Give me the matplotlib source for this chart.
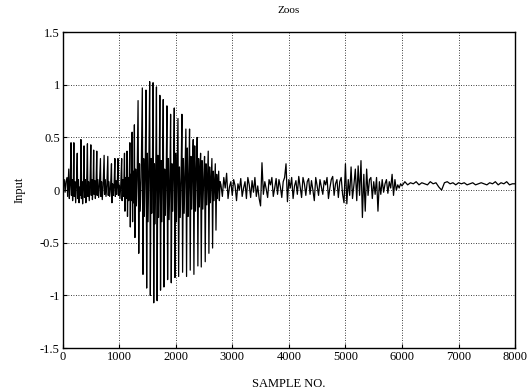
import numpy as np
import matplotlib
matplotlib.use("Agg")
import matplotlib.pyplot as plt

# onset (0 - 1000): weak voiced part, sharp positive pulses
onset_x = [0, 15, 30, 45, 60, 80, 90, 100, 110, 120, 135, 150, 158, 168, 178, 190,
           200, 208, 220, 232, 245, 260, 268, 280, 292, 305, 315, 325, 333, 345, 355, 368,
           380, 388, 400, 412, 425, 440, 448, 460, 472, 485, 500, 508, 518, 528, 540, 550,
           558, 570, 580, 592, 605, 613, 625, 638, 652, 670, 678, 690, 702, 718, 735, 743,
           755, 768, 783, 800, 808, 820, 833, 848, 865, 873, 885, 897, 910, 925, 933, 945,
           955, 968, 980, 988]
onset_y = [0.12, 0.04, 0.10, -0.02, 0.08, 0.12, -0.06, 0.06, 0.20, -0.08, 0.05, 0.45, -0.05, 0.10, -0.10, 0.05,
           0.45, -0.06, 0.08, -0.12, 0.04, 0.35, -0.08, 0.10, -0.12, 0.03, -0.05, 0.48, -0.08, 0.08, -0.13, 0.05,
           0.42, -0.07, 0.10, -0.12, 0.02, 0.44, -0.06, 0.08, -0.10, 0.04, 0.43, -0.05, 0.10, -0.09, 0.02, 0.38,
           -0.04, 0.09, -0.08, 0.03, 0.37, -0.05, 0.10, -0.07, 0.04, 0.30, -0.06, 0.08, -0.09, 0.05, 0.33, -0.04,
           0.10, -0.06, 0.04, 0.32, -0.05, 0.08, -0.06, 0.02, 0.25, -0.12, 0.06, -0.05, 0.03, 0.30, -0.06, 0.09,
           -0.04, 0.05, 0.30, -0.05]

# vowel (1000 - 2800): large periodic pulses
vowel_x = [1003, 1015, 1030,
           1045, 1053, 1063, 1073, 1083,
           1095, 1103, 1113, 1123, 1132,
           1140, 1148, 1158, 1168, 1178,
           1190, 1198, 1206, 1214, 1222,
           1230, 1238, 1246, 1254, 1262,
           1270, 1280, 1292, 1305, 1318,
           1335, 1347, 1360, 1373, 1390,
           1410, 1422, 1434, 1446, 1460,
           1475, 1487, 1499, 1511, 1525,
           1540, 1552, 1564, 1576, 1588,
           1600, 1612, 1624, 1636, 1648,
           1660, 1672, 1684, 1696, 1708,
           1720, 1732, 1744, 1756, 1768,
           1780, 1792, 1805, 1818, 1832,
           1845, 1857, 1870, 1883, 1897,
           1910, 1922, 1935, 1948, 1962,
           1975, 1987, 2000, 2013, 2027,
           2040, 2052, 2066, 2080, 2095,
           2110, 2122, 2136, 2150, 2165,
           2180, 2192, 2205, 2218, 2232,
           2245, 2257, 2270, 2283, 2297,
           2310, 2322, 2336, 2350, 2365,
           2380, 2392, 2405, 2418, 2428,
           2440, 2452, 2466, 2480, 2495,
           2510, 2522, 2536, 2550, 2562,
           2575, 2587, 2600, 2613, 2627,
           2640, 2652, 2665, 2678, 2690,
           2700, 2712, 2725, 2738, 2750,
           2760, 2772, 2785]
vowel_y = [0.05, -0.08, 0.06,
           0.30, -0.10, 0.10, -0.06, 0.05,
           0.35, -0.20, 0.12, -0.08, 0.06,
           0.37, -0.25, 0.12, -0.10, 0.08,
           0.45, -0.35, 0.15, -0.10, 0.05,
           0.55, -0.30, 0.18, -0.12, 0.05,
           0.62, -0.45, 0.20, -0.15, 0.10,
           0.85, -0.60, 0.25, -0.20, 0.12,
           0.97, -0.80, 0.30, -0.25, 0.15,
           0.95, -0.93, 0.35, -0.30, 0.20,
           1.03, -1.00, 0.30, -0.22, 0.18,
           1.02, -1.07, 0.25, -0.32, 0.20,
           0.98, -1.05, 0.33, -0.26, 0.12,
           0.90, -0.95, 0.28, -0.30, 0.22,
           0.86, -0.92, 0.20, -0.24, 0.15,
           0.80, -0.85, 0.30, -0.28, 0.10,
           0.72, -0.88, 0.25, -0.20, 0.22,
           0.78, -0.83, 0.35, -0.30, 0.18,
           0.68, -0.82, 0.22, -0.26, 0.12,
           0.72, -0.78, 0.30, -0.22, 0.20,
           0.58, -0.82, 0.40, -0.25, 0.15,
           0.58, -0.76, 0.32, -0.18, 0.25,
           0.48, -0.80, 0.42, -0.20, 0.18,
           0.50, -0.72, 0.30, -0.16, 0.15,
           0.35, -0.73, 0.28, -0.18, 0.12,
           0.32, -0.68, 0.25, -0.14, 0.12,
           0.37, -0.60, 0.22, -0.12, 0.10,
           0.30, -0.55, 0.18, -0.10, 0.08,
           0.25, -0.38, 0.15, -0.08, 0.06,
           0.18, -0.10, 0.08]

# noisy part (2800 - 5975), one value every 25 samples
noise_start, noise_step = 2800, 25
noise_y = [0.05, -0.06, 0.12, 0.02, 0.16, -0.08, 0.03, 0.08,
           -0.05, 0.10, 0.04, -0.10, 0.06, 0.00, 0.11, -0.06,
           0.02, 0.08, -0.08, 0.12, 0.05, -0.07, 0.09, -0.02,
           0.12, -0.06, 0.04, -0.08, -0.15, 0.26, -0.04, 0.08,
           0.01, -0.07, 0.10, 0.05, 0.12, -0.06, 0.02, 0.11,
           -0.04, 0.10, 0.03, -0.07, 0.08, 0.12, 0.25, -0.11,
           0.10, 0.02, 0.12, -0.08, 0.04, 0.09, -0.04, 0.13,
           0.03, -0.07, 0.12, 0.06, -0.05, 0.08, 0.11, -0.04,
           0.09, 0.00, -0.10, 0.12, 0.04, -0.05, 0.10, 0.03,
           -0.04, 0.09, 0.05, 0.12, -0.08, 0.02, 0.10, 0.13,
           -0.05, 0.06, 0.10, -0.07, 0.08, 0.12, -0.04, -0.12,
           0.25, -0.13, 0.10, -0.05, 0.22, -0.08, 0.05, 0.20,
           -0.10, 0.23, -0.05, 0.28, -0.26, 0.15, -0.20, 0.20,
           -0.05, 0.10, 0.12, -0.08, 0.08, -0.04, 0.12, -0.20,
           0.08, -0.04, 0.10, -0.02, 0.06, 0.10, -0.03, 0.08,
           0.02, 0.15, -0.05, 0.10, 0.00, 0.05, 0.02, 0.06]

# silence tail (6000 - 8000), one value every 50 samples
tail_start, tail_step = 6000, 50
tail_y = [0.04, 0.08, 0.05, 0.07, 0.06, 0.08, 0.05, 0.07,
          0.06, 0.05, 0.08, 0.06, 0.07, 0.03, 0.00, 0.07,
          0.08, 0.06, 0.07, 0.05, 0.07, 0.06, 0.07, 0.05,
          0.06, 0.07, 0.05, 0.06, 0.07, 0.06, 0.05, 0.07,
          0.06, 0.08, 0.05, 0.07, 0.06, 0.08, 0.05, 0.06,
          0.06]

x_ticks = [0, 1000, 2000, 3000, 4000, 5000, 6000, 7000, 8000]
y_ticks = [-1.5, -1, -0.5, 0, 0.5, 1, 1.5]
y_tick_labels = ["-1.5", "-1", "-0.5", "0", "0.5", "1", "1.5"]

noise_x = noise_start + noise_step * np.arange(len(noise_y))
tail_x = tail_start + tail_step * np.arange(len(tail_y))

sample_no = np.concatenate([onset_x, vowel_x, noise_x, tail_x])
signal = np.concatenate([onset_y, vowel_y, noise_y, tail_y])

plt.rcParams["font.family"] = ["Liberation Serif", "DejaVu Serif"]

fig = plt.figure(figsize=(5.30, 3.92), dpi=100)
ax = fig.add_axes([0.118, 0.112, 0.854, 0.806])

ax.plot(sample_no, signal, color="black", linewidth=0.9)

ax.set_xlim(0, 8000)
ax.set_ylim(-1.5, 1.5)
ax.set_xticks(x_ticks)
ax.set_xticklabels([str(t) for t in x_ticks])
ax.set_yticks(y_ticks)
ax.set_yticklabels(y_tick_labels)
ax.tick_params(direction="in", length=3, labelsize=9, pad=2)

ax.grid(True, color="black", linestyle=(0, (1, 2)), linewidth=0.6)
for s in ax.spines.values():
    s.set_linewidth(1.0)

ax.set_title("Zoos", fontsize=8, pad=14)
ax.set_xlabel("SAMPLE NO.", fontsize=9, labelpad=11)
ax.set_ylabel("Input", fontsize=9, labelpad=10)

fig.savefig("out.png", dpi=100)
